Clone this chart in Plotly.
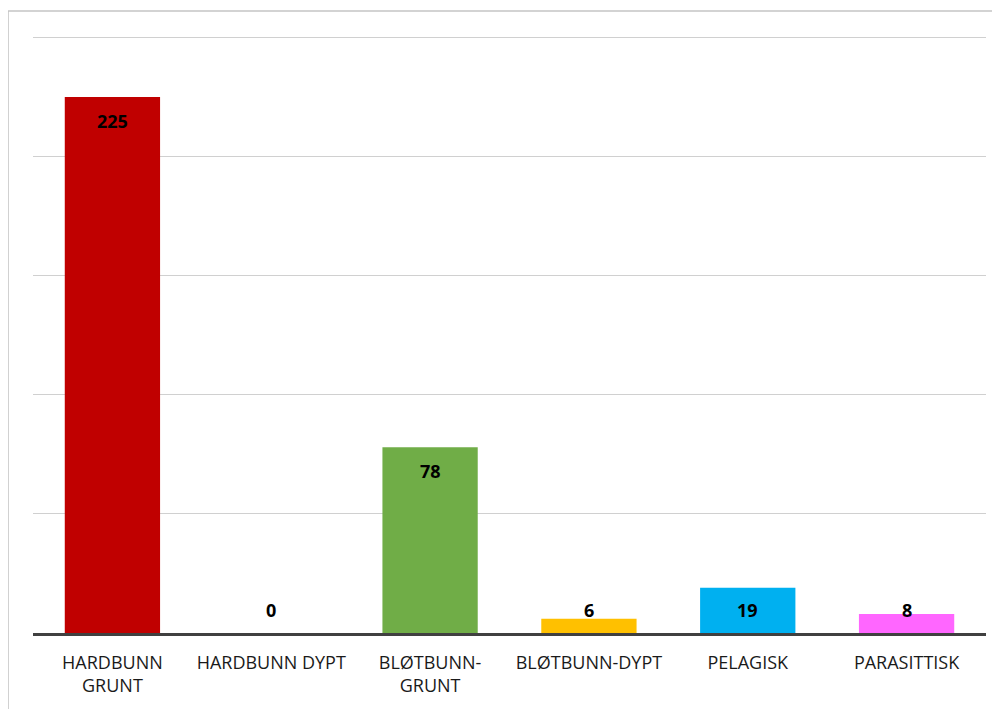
import plotly.graph_objects as go

categories = ["HARDBUNN<br>GRUNT", "HARDBUNN DYPT", "BLØTBUNN-<br>GRUNT", "BLØTBUNN-DYPT", "PELAGISK", "PARASITTISK"]
values = [225, 0, 78, 6, 19, 8]
colors = ["#C00000", "#C00000", "#70AD47", "#FFC000", "#00B0F0", "#FF66FF"]
y_ticks = [0, 50, 100, 150, 200, 250]

fig = go.Figure()
fig.add_trace(go.Bar(
    x=categories, y=values, marker=dict(color=colors, line=dict(width=0)),
    width=0.6, showlegend=False, hoverinfo="x+y",
))

# value labels: inside end, clamped above the baseline for small bars
for c, v in zip(categories, values):
    fig.add_annotation(
        x=c, y=max(v - 10, 9.6), text=f"<b>{v}</b>", showarrow=False,
        font=dict(family="Open Sans", size=18, color="#000000"),
        yanchor="middle",
    )

fig.update_layout(
    width=992, height=701,
    margin=dict(l=25, r=14, t=27, b=71),
    paper_bgcolor="white", plot_bgcolor="white",
    bargap=0.4,
    xaxis=dict(
        showgrid=False, showline=True, linecolor="#404040", linewidth=3,
        ticks="outside", ticklen=11, tickcolor="rgba(0,0,0,0)",
        tickfont=dict(family="Open Sans", size=18, color="#1a1a1a"),
    ),
    yaxis=dict(
        range=[0, 251], tickvals=y_ticks, showticklabels=False,
        showgrid=True, gridcolor="#d0d0d0", gridwidth=1.3, zeroline=False,
    ),
    shapes=[
        dict(type="line", xref="paper", yref="paper", x0=-0.0262, x1=-0.0262, y0=-0.2, y1=1.04,
             line=dict(color="#c4c4c4", width=1.5)),
        dict(type="line", xref="paper", yref="paper", x0=-0.0262, x1=1.1, y0=1.04, y1=1.04,
             line=dict(color="#c4c4c4", width=1.5)),
    ],
)

fig.write_html("out.html")
